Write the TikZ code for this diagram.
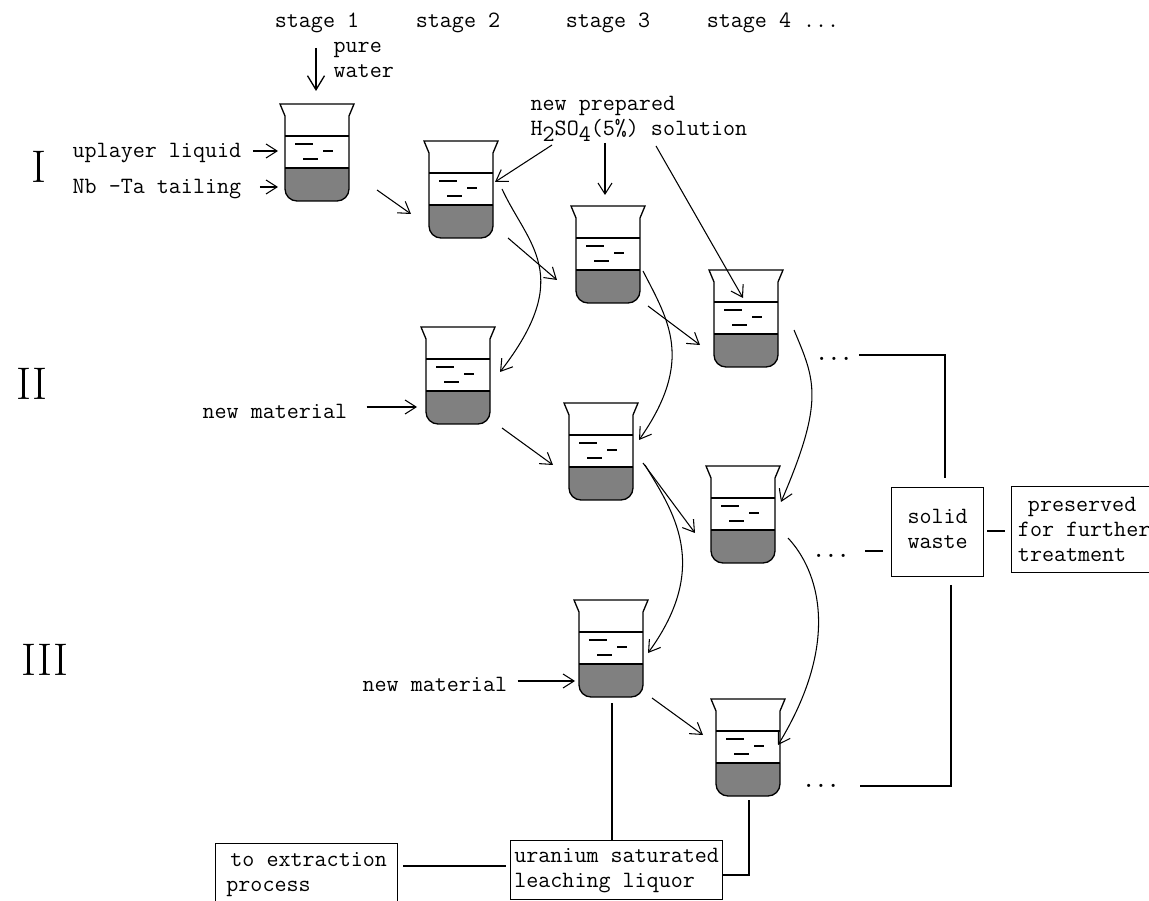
\documentclass[tikz,border=0pt]{standalone}
\usepackage{xcolor}
\usetikzlibrary{arrows.meta}
\definecolor{sediment}{HTML}{808080}
\newcommand{\lowdigit}[1]{\raisebox{-3.5pt}{#1}}

\begin{document}
\begin{tikzpicture}[
    x=0.02cm,y=-0.02cm,
    line width=.75pt,
    label/.style={
        inner sep=0pt,
        font=\ttfamily\fontsize{13.3}{14.2}\selectfont,
        align=left
      },
    stagename/.style={
        label
      },
    roman/.style={
        inner sep=0pt,
        font=\rmfamily\fontsize{26}{26}\selectfont
      },
    box/.style={
        label,
        draw,
        anchor=north west
      },
    flow/.style={
        -{Straight Barb[length=2.2mm,width=2.8mm]},
        line width=.6pt
      },
    beaker/.pic={
        \fill[sediment] (-32,64) -- (32,64) -- (32,85)
          arc[start angle=0,end angle=90,radius=12] -- (-20,97)
          arc[start angle=90,end angle=180,radius=12] -- cycle;
        \draw (-37,0) -- (37,0) -- (32,12) -- (32,85)
          arc[start angle=0,end angle=90,radius=12] -- (-20,97)
          arc[start angle=90,end angle=180,radius=12] -- (-32,12) -- cycle;
        \draw (-32,32) -- (32,32);
        \draw (-32,64) -- (32,64);
        \draw (-22,40) -- (-4,40);
        \draw (6,47) -- (16,47);
        \draw (-14,55) -- (1,55);
      }
  ]
  \useasboundingbox (0,0) rectangle (1149,901);

  % beakers
  \foreach \name/\x/\y in {
      one/317/104,twoI/461/141,threeI/608/206,fourI/746/270,
      twoII/458/327,threeII/601/403,fourII/743/466,
      threeIII/611/600,fourIII/748/699}
    {
      \coordinate (\name) at (\x,\y);
      \pic at (\name) {beaker};
    }

  % stage and row names
  \node[stagename] (stage1) at (317,23) {stage 1};
  \node[stagename] (stage2) at (458,23) {stage 2};
  \node[stagename] (stage3) at (608,23) {stage 3};
  \node[stagename] (stage4) at (773,23) {stage 4 ...};
  \node[roman] (rowI) at (39,167) {I};
  \node[roman] (rowII) at (32,384) {II};
  \node[roman] (rowIII) at (45,660) {III};

  % texts
  \node[label,anchor=west] (water) at (333,60) {pure\\water};
  \node[label,anchor=west] (uplayer) at (72,153) {uplayer liquid};
  \node[label,anchor=west] (tailing) at (72,189) {Nb -Ta tailing};
  \node[label,anchor=west] (acid) at (530,119)
    {new prepared\\H\lowdigit{2}SO\lowdigit{4}(5\%) solution};
  \node[label,anchor=west] (materialII) at (202,411) {new material};
  \node[label,anchor=west] (materialIII) at (362,684) {new material};
  \node[label,anchor=west,font=\ttfamily\bfseries\fontsize{13.3}{14.2}\selectfont] (dotsI) at (815,359) {...};
  \node[label,anchor=west,font=\ttfamily\bfseries\fontsize{13.3}{14.2}\selectfont] (dotsII) at (812,556) {...};
  \node[label,anchor=west,font=\ttfamily\bfseries\fontsize{13.3}{14.2}\selectfont] (dotsIII) at (802,786) {...};

  % boxes
  \node[box,minimum width=3.64cm,minimum height=1.24cm] (extract) at (215,843)
    {\hspace*{2.3pt}to extraction\\process};
  \node[box,minimum width=4.24cm,minimum height=1.18cm] (uranium) at (510,840)
    {uranium saturated\\leaching liquor};
  \node[box,minimum width=1.84cm,minimum height=1.78cm,align=center] (solid) at (891,487)
    {solid\\waste\rule[-3.4pt]{0pt}{1pt}};
  \node[box,minimum width=2.9cm,minimum height=1.72cm] (preserved) at (1011,486)
    {\hspace*{5.7pt}preserved\\for further\\treatment};

  % free ends of the connectors
  \foreach \name/\x/\y in {
      water_a/316/48,water_b/316/91,
      up_b/278/151,tail_b/278/187,
      acid_a/552/145,acid_b/495/182,
      acid_c/605/143,acid_d/605/195,
      acid_e/656/146,acid_f/743/298,
      one_a/377/190,one_b/411/214,
      twoI_a/508/238,twoI_b/557/280,
      threeI_a/648/306,threeI_b/700/345,
      twoII_a/502/428,twoII_b/553/465,
      threeII_a/643/463,threeII_b/695/533,
      threeIII_a/652/698,threeIII_b/703/735,
      matII_b/417/407,matIII_b/575/681,
      c1_a/502/189,c1_b/500/372,
      c2_a/643/271,c2_b/639/440,
      c3_a/794/330,c3_b/781/502,
      c4_a/645/465,c4_b/648/653,
      c5_a/788/538,c5_b/778/745,
      w1_a/859/355,w1_c/945/355,w1_b/945/478,
      w2_a/865/551,w2_b/883/551,
      w3_a/951/585,w3_c/951/786,w3_b/860/786,
      u1_a/612/703,u1_b/612/840,
      u2_a/749/800,u2_c/749/875,u2_b/722/875,
      e_a/403/866,e_b/506/866,
      p_a/987/531,p_b/1005/531}
    {
      \coordinate (\name) at (\x,\y);
    }

  % arrows between the steps
  \draw[flow,-{Straight Barb[length=2.8mm,width=3.4mm]},line width=.75pt] (water_a) -- (water_b);
  \draw[flow] (uplayer.east) ++(11,-2) -- (up_b);
  \draw[flow] (tailing.east) ++(18,-2) -- (tail_b);
  \draw[flow] (acid_a) -- (acid_b);
  \draw[flow] (acid_c) -- (acid_d);
  \draw[flow] (acid_e) -- (acid_f);
  \foreach \stepname in {one,twoI,threeI,twoII,threeII,threeIII}
    {
      \draw[flow] (\stepname_a) -- (\stepname_b);
    }
  \draw[flow] (materialII.east) ++(19,-4) -- (matII_b);
  \draw[flow] (materialIII.east) ++(10,-3) -- (matIII_b);

  % curved arrows
  \draw[flow] (c1_a) .. controls (528,245) and (575,275) .. (c1_b);
  \draw[flow] (c2_a) .. controls (668,320) and (695,360) .. (c2_b);
  \draw[flow] (c3_a) .. controls (815,380) and (825,400) .. (c3_b);
  \draw[flow] (c4_a) .. controls (672,510) and (712,565) .. (c4_b);
  \draw[flow] (c5_a) .. controls (818,570) and (842,640) .. (c5_b);

  % plain lines
  \draw (w1_a) -- (w1_c) -- (w1_b);
  \draw (w2_a) -- (w2_b);
  \draw (w3_a) -- (w3_c) -- (w3_b);
  \draw (u1_a) -- (u1_b);
  \draw (u2_a) -- (u2_c) -- (u2_b);
  \draw (e_a) -- (e_b);
  \draw (p_a) -- (p_b);
\end{tikzpicture}
\end{document}
